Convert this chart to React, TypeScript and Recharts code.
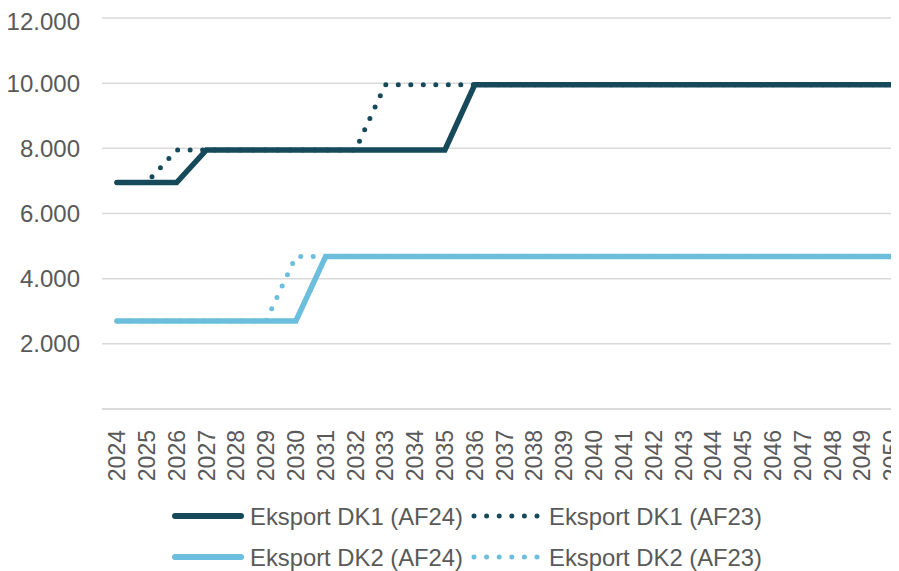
import React from "react";
import { LineChart, Line, XAxis, YAxis, CartesianGrid } from "recharts";

const years = [
  "2024", "2025", "2026", "2027", "2028", "2029", "2030", "2031", "2032",
  "2033", "2034", "2035", "2036", "2037", "2038", "2039", "2040", "2041",
  "2042", "2043", "2044", "2045", "2046", "2047", "2048", "2049", "2050",
];

// Eksport DK1 (AF24)
const dk1Af24 = [
  6950, 6950, 6950, 7950, 7950, 7950, 7950, 7950, 7950, 7950, 7950, 7950,
  9950, 9950, 9950, 9950, 9950, 9950, 9950, 9950, 9950, 9950, 9950, 9950,
  9950, 9950, 9950,
];
// Eksport DK1 (AF23)
const dk1Af23 = [
  6950, 6950, 7950, 7950, 7950, 7950, 7950, 7950, 7950, 9950, 9950, 9950,
  9950, 9950, 9950, 9950, 9950, 9950, 9950, 9950, 9950, 9950, 9950, 9950,
  9950, 9950, 9950,
];
// Eksport DK2 (AF24)
const dk2Af24 = [
  2700, 2700, 2700, 2700, 2700, 2700, 2700, 4680, 4680, 4680, 4680, 4680,
  4680, 4680, 4680, 4680, 4680, 4680, 4680, 4680, 4680, 4680, 4680, 4680,
  4680, 4680, 4680,
];
// Eksport DK2 (AF23)
const dk2Af23 = [
  2700, 2700, 2700, 2700, 2700, 2700, 4680, 4680, 4680, 4680, 4680, 4680,
  4680, 4680, 4680, 4680, 4680, 4680, 4680, 4680, 4680, 4680, 4680, 4680,
  4680, 4680, 4680,
];

const yTicks = [2000, 4000, 6000, 8000, 10000, 12000];

const DARK = "#164a5b";
const LIGHT = "#6bbedc";
const TEXT = "#595959";
const GRID = "#d9d9d9";
const FONT = "'Liberation Sans', Arial, sans-serif";

const data = years.map((year, i) => ({
  year,
  dk1Af24: dk1Af24[i],
  dk1Af23: dk1Af23[i],
  dk2Af24: dk2Af24[i],
  dk2Af23: dk2Af23[i],
}));

const fmt = (v: number) => v.toLocaleString("de-DE");

const YearTick = (props: any) => {
  const { x, y, payload } = props;
  return (
    <text
      x={x}
      y={y}
      transform={`rotate(-90, ${x}, ${y})`}
      textAnchor="end"
      dy="0.355em"
      fill={TEXT}
      fontSize={23}
      fontFamily={FONT}
    >
      {payload.value}
    </text>
  );
};

const legendItems = [
  { label: "Eksport DK1 (AF24)", color: DARK, dotted: false, col: 0, row: 0 },
  { label: "Eksport DK1 (AF23)", color: DARK, dotted: true, col: 1, row: 0 },
  { label: "Eksport DK2 (AF24)", color: LIGHT, dotted: false, col: 0, row: 1 },
  { label: "Eksport DK2 (AF23)", color: LIGHT, dotted: true, col: 1, row: 1 },
];

const Legend2x2 = () => (
  <svg
    width={891}
    height={80}
    style={{ position: "absolute", left: 0, top: 483 }}
  >
    {legendItems.map((it) => {
      const x0 = it.col === 0 ? 164 : 462;
      const cy = it.row === 0 ? 25 : 66;
      return (
        <g key={it.label}>
          {it.dotted ? (
            <line
              x1={x0 + 4}
              y1={cy}
              x2={x0 + 70}
              y2={cy}
              stroke={it.color}
              strokeWidth={5}
              strokeLinecap="round"
              strokeDasharray="0 12.6"
            />
          ) : (
            <line
              x1={x0 + 3}
              y1={cy}
              x2={x0 + 69}
              y2={cy}
              stroke={it.color}
              strokeWidth={6}
              strokeLinecap="round"
            />
          )}
          <text
            x={x0 + (it.dotted ? 79 : 78)}
            y={cy}
            dy="0.355em"
            fontSize={24}
            fontFamily={FONT}
            fill={TEXT}
            textLength={213}
            lengthAdjust="spacingAndGlyphs"
          >
            {it.label}
          </text>
        </g>
      );
    })}
  </svg>
);

export default function App() {
  return (
    <div style={{ position: "relative", width: 891, height: 563, overflow: "hidden", background: "#fff" }}>
      <LineChart
        width={899}
        height={563}
        data={data}
        margin={{ top: 10, right: 0, left: 0, bottom: 92 }}
      >
        <CartesianGrid vertical={false} stroke={GRID} strokeWidth={1.5} />
        <XAxis
          dataKey="year"
          interval={0}
          padding={{ left: 15, right: 15 }}
          tickLine={false}
          axisLine={{ stroke: GRID, strokeWidth: 1.5 }}
          tick={<YearTick />}
          tickMargin={15}
          height={70}
        />
        <YAxis
          domain={[0, 12000]}
          ticks={yTicks}
          width={94}
          axisLine={false}
          tickLine={false}
          tickMargin={16}
          tickFormatter={fmt}
          tick={{ fill: TEXT, fontSize: 24, fontFamily: FONT }}
        />
        <Line
          type="linear"
          dataKey="dk1Af24"
          stroke={DARK}
          strokeWidth={5.5}
          strokeLinecap="round"
          dot={false}
          isAnimationActive={false}
        />
        <Line
          type="linear"
          dataKey="dk1Af23"
          stroke={DARK}
          strokeWidth={5}
          strokeLinecap="round"
          strokeDasharray="0 12.5"
          dot={false}
          isAnimationActive={false}
        />
        <Line
          type="linear"
          dataKey="dk2Af24"
          stroke={LIGHT}
          strokeWidth={5.5}
          strokeLinecap="round"
          dot={false}
          isAnimationActive={false}
        />
        <Line
          type="linear"
          dataKey="dk2Af23"
          stroke={LIGHT}
          strokeWidth={5}
          strokeLinecap="round"
          strokeDasharray="0 12.5"
          dot={false}
          isAnimationActive={false}
        />
      </LineChart>
      <Legend2x2 />
    </div>
  );
}
